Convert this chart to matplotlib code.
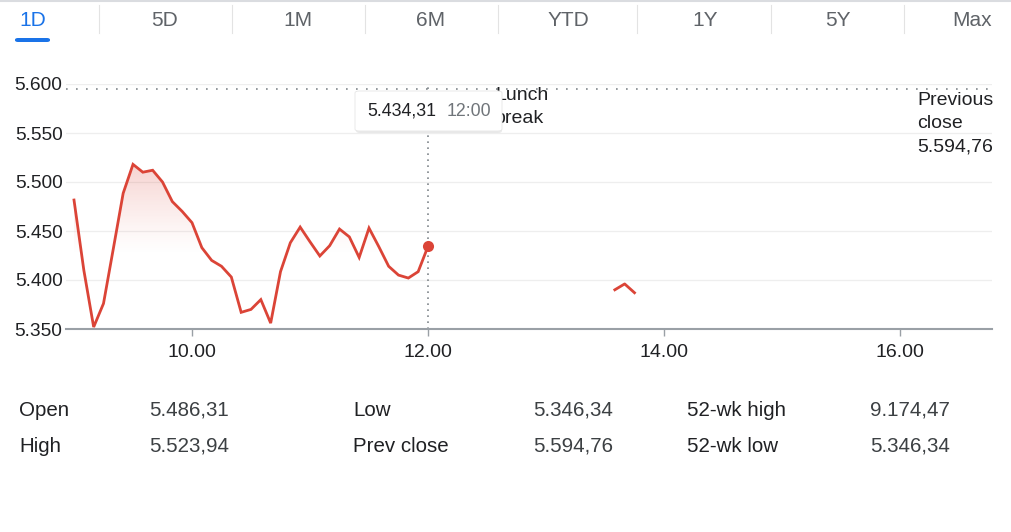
import numpy as np
import pandas as pd
import matplotlib
matplotlib.use('Agg')
import matplotlib.pyplot as plt
from matplotlib.patches import FancyBboxPatch
from matplotlib.ticker import FuncFormatter

plt.rcParams['font.family'] = ['Liberation Sans', 'DejaVu Sans']

# Datos de la sesión (cada 5 min desde 09:00)
morning_times = pd.date_range('2024-01-01 09:00', '2024-01-01 12:00', freq='5min')
morning_values = [5481.6, 5410, 5352, 5376, 5432, 5488.5, 5518, 5510, 5512, 5500,
                  5480, 5470, 5458.5, 5433, 5420, 5414, 5403, 5367, 5370, 5380,
                  5356, 5408.5, 5438, 5454, 5439, 5424.5, 5435, 5452, 5444, 5423,
                  5453, 5434, 5414, 5405, 5402, 5408.5, 5434.31]
afternoon_times = ['13:35', '13:40', '13:45']
afternoon_values = [5390, 5396, 5387]

prev_close = 5594.76
tabs = ['1D', '5D', '1M', '6M', 'YTD', '1Y', '5Y', 'Max']
tab_x = [33, 165, 298, 431, 568, 705, 838, 972]
sep_x = [99, 232, 365, 498, 637, 771, 904]
x_ticks = [10, 12, 14, 16]
x_tick_labels = ['10.00', '12.00', '14.00', '16.00']
y_ticks = [5350, 5400, 5450, 5500, 5550, 5600]

stats_labels = [['Open', 'High'], ['Low', 'Prev close'], ['52-wk high', '52-wk low']]
stats_values = [['5.486,31', '5.523,94'], ['5.346,34', '5.594,76'], ['9.174,47', '5.346,34']]

W, H = 1011, 532
def fx(px):
    return px / W
def fy(py):
    return 1 - py / H

def hours(t):
    t = pd.to_datetime(t, format='%H:%M') if isinstance(t[0], str) else t
    return np.array([x.hour + x.minute / 60 for x in t])

xm = hours(morning_times)
xa = hours(afternoon_times)
red = '#db4437'

fig = plt.figure(figsize=(W / 100, H / 100), dpi=100)
ax = fig.add_axes([fx(66), fy(329), fx(992) - fx(66), fy(84) - fy(329)])

# Rejilla
for v in y_ticks:
    ax.axhline(v, color='#eeeeee', lw=0.9, zorder=0)

# Relleno degradado bajo la curva
poly = ax.fill_between(xm, morning_values, 5350, color='none', lw=0)
yy = np.linspace(5350, 5530, 200)
alpha = np.clip((yy - 5425) / (5520 - 5425), 0, 1) ** 1.2 * 0.24
grad = np.zeros((200, 1, 4))
grad[:, 0, 0] = 0.86
grad[:, 0, 1] = 0.27
grad[:, 0, 2] = 0.22
grad[:, 0, 3] = alpha
img = ax.imshow(grad, extent=[xm[0], xm[-1], 5350, 5530], origin='lower',
                aspect='auto', zorder=1, interpolation='bilinear')
img.set_clip_path(poly.get_paths()[0], transform=ax.transData)
poly.remove()
ax.set_xlim(10 + (66 - 192) / 118, 10 + (992 - 192) / 118)
ax.set_ylim(5350, 5600)

ax.plot(xm, morning_values, color=red, lw=2.0, zorder=3, solid_joinstyle='miter')
ax.plot(xa, afternoon_values, color=red, lw=2.0, zorder=3)
ax.plot(xm[-1], morning_values[-1], 'o', color=red, ms=8, zorder=4, mec='none')

# Cierre anterior y línea vertical
ax.axhline(prev_close, color='#80868b', lw=1.2, ls=(0, (1, 5)), zorder=2)
ax.axvline(xm[-1], color='#80868b', lw=1.2, ls=(0, (1, 2.6)), zorder=2)

for s in ['top', 'right', 'left']:
    ax.spines[s].set_visible(False)
ax.spines['bottom'].set_color('#9aa0a6')
ax.spines['bottom'].set_linewidth(1.5)

ax.set_xticks(x_ticks)
ax.set_xticklabels(x_tick_labels)
ax.set_yticks(y_ticks)
ax.yaxis.set_major_formatter(FuncFormatter(lambda v, p: f'{v / 1000:.3f}'))
ax.tick_params(axis='x', length=5, width=1, color='#9aa0a6', pad=6,
               labelsize=14, labelcolor='#202124')
ax.tick_params(axis='y', length=0, pad=2.5, labelsize=13.8, labelcolor='#202124')

# Textos en el gráfico
fig.text(fx(495), fy(107), 'Lunch\nbreak', fontsize=14, color='#202124',
         ha='left', va='center', linespacing=1.48, zorder=5)
fig.text(fx(917), fy(123.5), 'Previous\nclose\n5.594,76', fontsize=14,
         color='#202124', ha='left', va='center', linespacing=1.48)

# Tooltip
shadow = FancyBboxPatch((fx(356), fy(133)), fx(502) - fx(356), fy(91) - fy(133),
                        boxstyle='round,pad=0,rounding_size=0.004',
                        transform=fig.transFigure, fc='#000000', alpha=0.08,
                        ec='none', zorder=9)
box = FancyBboxPatch((fx(355), fy(131)), fx(502) - fx(355), fy(91) - fy(131),
                     boxstyle='round,pad=0,rounding_size=0.004',
                     transform=fig.transFigure, fc='white', ec='#e6e6e6',
                     lw=0.6, zorder=10)
fig.add_artist(shadow)
fig.add_artist(box)
fig.text(fx(367), fy(111), '5.434,31', fontsize=12.8, color='#202124',
         ha='left', va='center', zorder=11)
fig.text(fx(447), fy(111), '12:00', fontsize=12.8, color='#70757a',
         ha='left', va='center', zorder=11)

# Pestañas
fig.add_artist(plt.Line2D([0, 1], [fy(1), fy(1)], transform=fig.transFigure,
                          color='#dadce0', lw=1.5))
for lab, x in zip(tabs, tab_x):
    fig.text(fx(x), fy(20), lab, fontsize=15, ha='center', va='center',
             color='#1a73e8' if lab == '1D' else '#5f6368')
for x in sep_x:
    fig.add_artist(plt.Line2D([fx(x), fx(x)], [fy(5), fy(33)],
                              transform=fig.transFigure, color='#e3e3e3', lw=0.8))
fig.add_artist(FancyBboxPatch((fx(15), fy(42)), fx(50) - fx(15), fy(38) - fy(42),
                              boxstyle='round,pad=0,rounding_size=0.003',
                              transform=fig.transFigure, fc='#1a73e8', ec='none'))

# Estadísticas
col_lab = [19, 353, 687]
col_val = [149, 533, 870]
rows_y = [410, 446]
for c in range(3):
    for r in range(2):
        fig.text(fx(col_lab[c]), fy(rows_y[r]), stats_labels[c][r], fontsize=14.8,
                 color='#202124', ha='left', va='center')
        fig.text(fx(col_val[c]), fy(rows_y[r]), stats_values[c][r], fontsize=14.8,
                 color='#3c4043', ha='left', va='center')

fig.savefig('out.png', dpi=100)
